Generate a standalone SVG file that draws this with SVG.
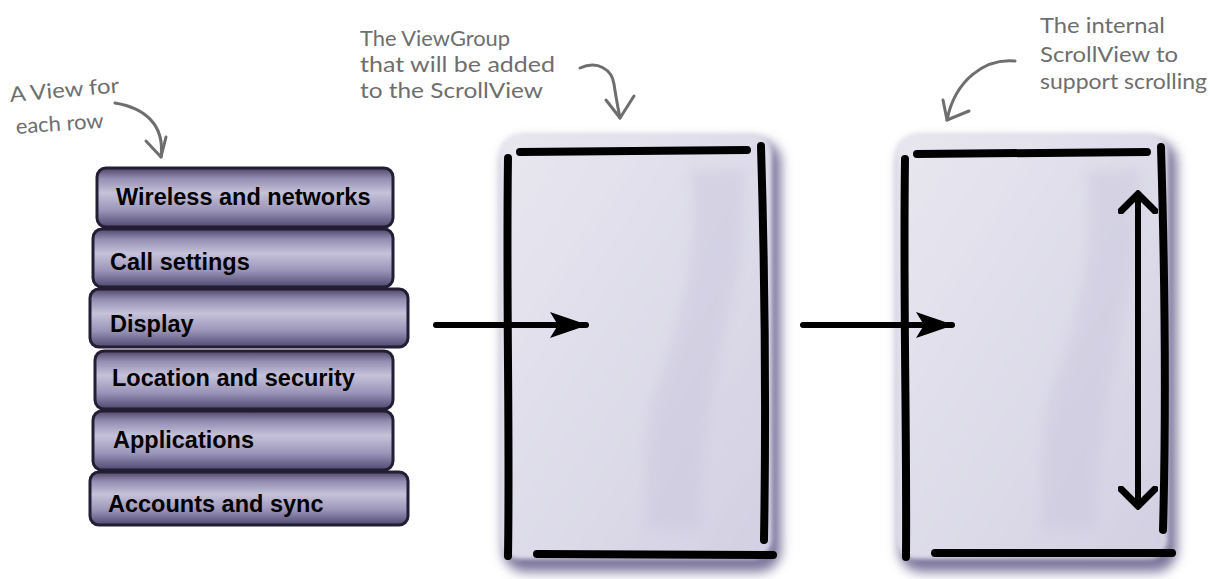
<svg xmlns="http://www.w3.org/2000/svg" width="1210" height="579" viewBox="0 0 1210 579">
<defs>
<style>
.note{font-family:"Lato","Open Sans",sans-serif;font-size:21px;fill:#6e6e6e;}
.lbl{font-family:"Liberation Sans",Arial,sans-serif;font-size:23.5px;font-weight:bold;fill:#000;}
.row{fill:url(#rowg);stroke:#231e33;stroke-width:3;}
.frame{fill:none;stroke:#000;stroke-width:8;stroke-linecap:round;}
.pen{fill:none;stroke:#6e6e6e;stroke-width:3;stroke-linecap:round;stroke-linejoin:round;}
.arr{fill:none;stroke:#000;stroke-width:6;stroke-linecap:round;}
</style>
<linearGradient id="rowg" x1="0" y1="0" x2="0" y2="1">
<stop offset="0" stop-color="#4d4669"/>
<stop offset="0.18" stop-color="#948eb2"/>
<stop offset="0.42" stop-color="#c6c2da"/>
<stop offset="0.72" stop-color="#9a94b8"/>
<stop offset="1" stop-color="#4f4870"/>
</linearGradient>
<linearGradient id="boxg" x1="0" y1="0" x2="1" y2="1">
<stop offset="0" stop-color="#e8e7f0"/>
<stop offset="0.6" stop-color="#dcdae8"/>
<stop offset="1" stop-color="#d2cfe2"/>
</linearGradient>
<filter id="blur" x="-10%" y="-10%" width="120%" height="120%"><feGaussianBlur stdDeviation="6"/></filter>
<filter id="soft" x="-10%" y="-10%" width="120%" height="120%"><feGaussianBlur stdDeviation="2"/></filter>
<marker id="head" viewBox="0 0 38 26" refX="36" refY="13" markerWidth="38" markerHeight="26" markerUnits="userSpaceOnUse" orient="auto">
<path d="M0,0 L38,13 L0,26 L8,13 Z" fill="#000"/>
</marker>
<marker id="vhead" viewBox="0 0 24 40" refX="20" refY="20" markerWidth="24" markerHeight="40" markerUnits="userSpaceOnUse" orient="auto-start-reverse">
<path d="M3,3 L20,20 L3,37" fill="none" stroke="#000" stroke-width="7" stroke-linecap="square" stroke-linejoin="miter"/>
</marker>
</defs>
<rect width="1210" height="579" fill="#fff"/>

<g id="note-rows">
<text class="note" transform="rotate(-5 10 100)" x="10" y="102" textLength="110" lengthAdjust="spacingAndGlyphs">A View for</text>
<text class="note" transform="rotate(-4 15 132)" x="16" y="134" textLength="88" lengthAdjust="spacingAndGlyphs">each row</text>
<path class="pen" d="M115,103 C145,108 165,125 161,157"/>
<path class="pen" d="M146,141 L161,157 L166,137"/>
</g>

<g id="note-viewgroup">
<text class="note" x="360" y="46" textLength="150" lengthAdjust="spacingAndGlyphs">The ViewGroup</text>
<text class="note" x="360" y="72" textLength="195" lengthAdjust="spacingAndGlyphs">that will be added</text>
<text class="note" x="360" y="98" textLength="183" lengthAdjust="spacingAndGlyphs">to the ScrollView</text>
<path class="pen" d="M580,68 C598,60 612,70 614,84 C616,98 618,108 620,118"/>
<path class="pen" d="M606,100 L620,118 L634,96"/>
</g>

<g id="note-scroll">
<text class="note" x="1040" y="33" textLength="125" lengthAdjust="spacingAndGlyphs">The internal</text>
<text class="note" x="1040" y="62" textLength="138" lengthAdjust="spacingAndGlyphs">ScrollView to</text>
<text class="note" x="1040" y="89" textLength="167" lengthAdjust="spacingAndGlyphs">support scrolling</text>
<path class="pen" d="M1015,61 C985,58 955,80 947,120"/>
<path class="pen" d="M943,100 L947,120 L969,111"/>
</g>

<g id="rows">
<g id="row-wireless"><rect class="row" x="97" y="168" width="296" height="59" rx="9"/><text class="lbl" x="116" y="205">Wireless and networks</text></g>
<g id="row-call"><rect class="row" x="93" y="229" width="300" height="58" rx="9"/><text class="lbl" x="110" y="270">Call settings</text></g>
<g id="row-display"><rect class="row" x="90" y="289" width="318" height="58" rx="9"/><text class="lbl" x="110" y="332">Display</text></g>
<g id="row-location"><rect class="row" x="95" y="351" width="298" height="58" rx="9"/><text class="lbl" x="112" y="386">Location and security</text></g>
<g id="row-applications"><rect class="row" x="93" y="411" width="300" height="59" rx="9"/><text class="lbl" x="113" y="448">Applications</text></g>
<g id="row-accounts"><rect class="row" x="90" y="472" width="318" height="53" rx="9"/><text class="lbl" x="108" y="512">Accounts and sync</text></g>
</g>

<g id="viewgroup">
<rect x="503" y="140" width="278" height="432" rx="22" fill="#7c769c" filter="url(#blur)"/>
<rect x="500" y="134" width="272" height="425" rx="20" fill="url(#boxg)" filter="url(#soft)"/>
<path d="M690,170 C700,230 690,300 660,380 C640,430 650,470 645,530 L700,530 C700,450 720,350 740,260 L745,170 Z" fill="#c9c6dc" opacity="0.45" filter="url(#blur)"/>
<path class="frame" d="M520,152 L747,150"/>
<path class="frame" d="M508,158 C506,300 510,430 508,556"/>
<path class="frame" d="M761,146 C765,280 766,420 764,540"/>
<path class="frame" d="M537,554 L773,555"/>
</g>

<g id="scrollview">
<rect x="899" y="140" width="278" height="432" rx="22" fill="#7c769c" filter="url(#blur)"/>
<rect x="896" y="134" width="272" height="425" rx="20" fill="url(#boxg)" filter="url(#soft)"/>
<path d="M1086,170 C1096,230 1086,300 1056,380 C1036,430 1046,470 1041,530 L1096,530 C1096,450 1116,350 1136,260 L1141,170 Z" fill="#c9c6dc" opacity="0.45" filter="url(#blur)"/>
<path class="frame" d="M917,154 L1147,152"/>
<path class="frame" d="M905,159 C903,300 907,430 906,557"/>
<path class="frame" d="M1161,147 C1165,280 1166,420 1163,530"/>
<path class="frame" d="M935,553 L1172,553"/>
<line x1="1138" y1="194" x2="1138" y2="506" stroke="#000" stroke-width="6" marker-start="url(#vhead)" marker-end="url(#vhead)"/>
</g>

<g id="connectors">
<line class="arr" x1="436" y1="325" x2="586" y2="325" marker-end="url(#head)"/>
<line class="arr" x1="803" y1="325" x2="952" y2="325" marker-end="url(#head)"/>
</g>
</svg>
